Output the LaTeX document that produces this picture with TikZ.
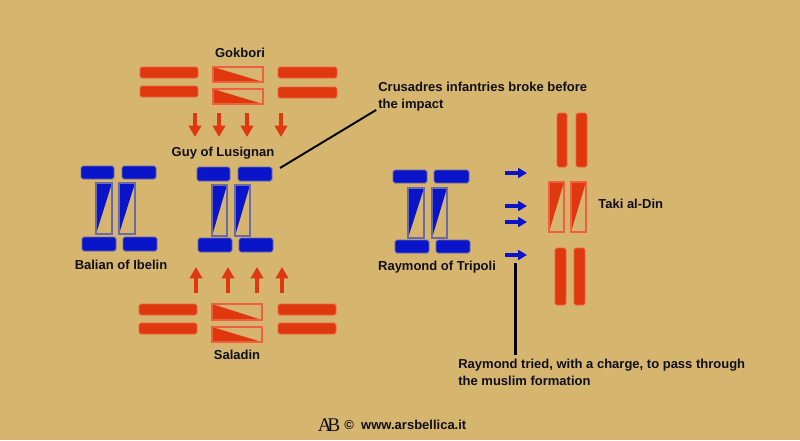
\documentclass[tikz,border=0pt]{standalone}
\usepackage{fontspec}
\setmainfont{Liberation Sans}
\usepackage{tikz}
\usetikzlibrary{positioning}
\usetikzlibrary{arrows.meta}

\definecolor{parchment}{HTML}{D6B56E}
\definecolor{redunit}{HTML}{E0380E}
\definecolor{redline}{HTML}{EE6040}
\definecolor{blueunit}{HTML}{0A14C8}
\definecolor{blueline}{HTML}{6A6AA6}
\definecolor{inkdark}{HTML}{10101C}

\tikzset{
  redbar/.style={fill=redunit, draw=redline, line width=0.5pt, rounded corners=1pt},
  bluebar/.style={fill=blueunit, draw=blueline, line width=0.5pt, rounded corners=1pt},
  redhalf/.style={fill=redunit},
  redframe/.style={draw=redline, line width=0.6pt},
  bluehalf/.style={fill=blueunit},
  blueframe/.style={draw=blueline, line width=0.6pt},
  redmove/.style={draw=redunit, line width=2.4pt, -{Triangle[width=7pt, length=6.5pt]}},
  bluemove/.style={draw=blueunit, line width=2pt, -{Triangle[width=5.5pt, length=5pt]}},
  label/.style={font=\bfseries\fontsize{7.4}{9.6}\selectfont, text=inkdark, inner sep=0pt},
  note/.style={label, align=left, anchor=north west}
}

\begin{document}
\begin{tikzpicture}[x=0.02cm, y=-0.02cm]
%background
\fill[parchment] (0,0) rectangle (800,440);
\useasboundingbox (0,0) rectangle (800,440);

%Gokbori
\node[label] (gokbori) at (240,53) {Gokbori};
\filldraw[redbar] (140,67) rectangle (198,78);
\filldraw[redbar] (140,86) rectangle (198,97);
\fill[redhalf] (213,67) -- (213,82) -- (263,82) -- cycle;
\draw[redframe] (213,67) rectangle (263,82);
\fill[redhalf] (213,89) -- (213,104) -- (263,104) -- cycle;
\draw[redframe] (213,89) rectangle (263,104);
\filldraw[redbar] (278,67) rectangle (337,78);
\filldraw[redbar] (278,87) rectangle (337,98);
\foreach \x in {195,219,247,281}
  \draw[redmove] (\x,113) -- (\x,137);

%Guy of Lusignan
\node[label] (guy) at (223,153) {Guy of Lusignan};
\filldraw[bluebar] (197,167) rectangle (230,181);
\filldraw[bluebar] (238,167) rectangle (272,181);
\fill[bluehalf] (212,185) -- (227,185) -- (212,236) -- cycle;
\draw[blueframe] (212,185) rectangle (227,236);
\fill[bluehalf] (235,185) -- (250,185) -- (235,236) -- cycle;
\draw[blueframe] (235,185) rectangle (250,236);
\filldraw[bluebar] (198,238) rectangle (232,252);
\filldraw[bluebar] (239,238) rectangle (273,252);
\coordinate (guytip) at (280,168);

%Balian of Ibelin
\filldraw[bluebar] (81,166) rectangle (114,179);
\filldraw[bluebar] (122,166) rectangle (156,179);
\fill[bluehalf] (96,183) -- (112,183) -- (96,234) -- cycle;
\draw[blueframe] (96,183) rectangle (112,234);
\fill[bluehalf] (119,183) -- (135,183) -- (119,234) -- cycle;
\draw[blueframe] (119,183) rectangle (135,234);
\filldraw[bluebar] (82,237) rectangle (116,251);
\filldraw[bluebar] (123,237) rectangle (157,251);
\node[label] (balian) at (121,265) {Balian of Ibelin};

%Saladin
\foreach \x in {196,228,257,282}
  \draw[redmove] (\x,293) -- (\x,267);
\filldraw[redbar] (139,304) rectangle (197,315);
\filldraw[redbar] (139,323) rectangle (197,334);
\fill[redhalf] (212,304) -- (212,320) -- (262,320) -- cycle;
\draw[redframe] (212,304) rectangle (262,320);
\fill[redhalf] (212,327) -- (212,342) -- (262,342) -- cycle;
\draw[redframe] (212,327) rectangle (262,342);
\filldraw[redbar] (278,304) rectangle (336,315);
\filldraw[redbar] (278,323) rectangle (336,334);
\node[label] (saladin) at (237,355) {Saladin};

%Raymond of Tripoli
\filldraw[bluebar] (393,170) rectangle (427,183);
\filldraw[bluebar] (434,170) rectangle (469,183);
\fill[bluehalf] (408,188) -- (424,188) -- (408,238) -- cycle;
\draw[blueframe] (408,188) rectangle (424,238);
\fill[bluehalf] (432,188) -- (447,188) -- (432,238) -- cycle;
\draw[blueframe] (432,188) rectangle (447,238);
\filldraw[bluebar] (395,240) rectangle (429,253);
\filldraw[bluebar] (436,240) rectangle (470,253);
\node[label] (raymond) at (437,267) {Raymond of Tripoli};
\foreach \y in {173,206,222,255}
  \draw[bluemove] (505,\y) -- (527,\y);
\coordinate (raytail) at (515,263);

%Taki al-Din
\filldraw[redbar] (557,113) rectangle (567,167);
\filldraw[redbar] (576,113) rectangle (587,167);
\fill[redhalf] (549,182) -- (564,182) -- (549,232) -- cycle;
\draw[redframe] (549,182) rectangle (564,232);
\fill[redhalf] (571,182) -- (586,182) -- (571,232) -- cycle;
\draw[redframe] (571,182) rectangle (586,232);
\filldraw[redbar] (555,248) rectangle (566,305);
\filldraw[redbar] (574,248) rectangle (585,305);
\node[label, anchor=west] (taki) at (598,204) {Taki al-Din};

%notes
\node[note] (crusnote) at (378,82) {Crusadres infantries broke before\\the impact};
\node[note] (raynote) at (458,359) {Raymond tried, with a charge, to pass through\\the muslim formation};
\draw[black, line width=1.1pt] (guytip) -- ([xshift=-1pt, yshift=1pt]crusnote.south west);
\draw[black, line width=1.7pt] (raytail) -- ([yshift=2pt]raytail |- raynote.north);

%footer
\node[font=\itshape\fontsize{11}{11}\selectfont, text=inkdark, inner sep=0pt] (logo) at (329,425) {\setmainfont{Liberation Serif}A\kern-2.5pt B};
\node[label, font=\bfseries\fontsize{7.4}{8}\selectfont, right=2pt of logo] (footer) {\textcopyright\ \ www.arsbellica.it};
\end{tikzpicture}
\end{document}
